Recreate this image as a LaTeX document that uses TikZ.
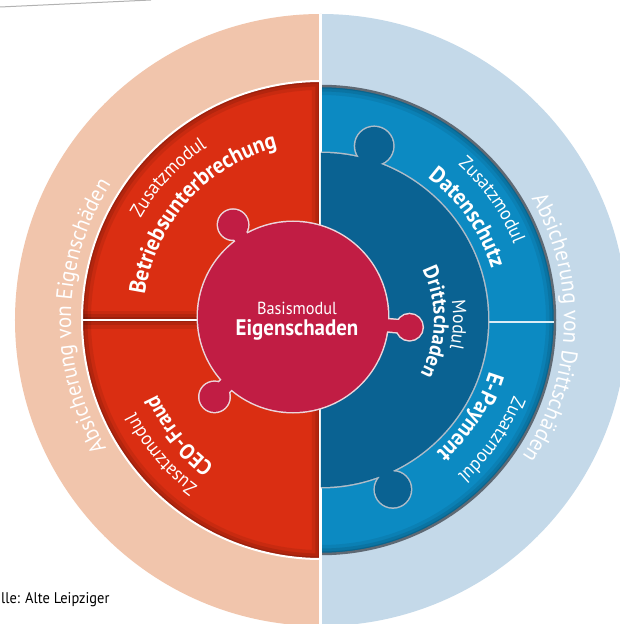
\documentclass[tikz,border=0pt]{standalone}
\usepackage{fontspec}
\setmainfont{PT Sans}[FakeStretch=0.93]
\usetikzlibrary{decorations.text}
\definecolor{peach}{RGB}{241,197,172}
\definecolor{paleblue}{RGB}{196,217,233}
\definecolor{modred}{RGB}{218,46,18}
\definecolor{discred}{RGB}{193,29,68}
\definecolor{darkblue}{RGB}{10,98,146}
\definecolor{midblue}{RGB}{12,138,194}
\definecolor{blueedge}{RGB}{95,105,115}
\definecolor{knobedge}{RGB}{175,188,200}
\definecolor{discedge}{RGB}{236,214,220}
\newlength\arcw
\newcommand\arclabel[5]{%
  \setbox0\hbox{\pgfinterruptpicture\normalfont\fontsize{10}{12}\selectfont#4#5\endpgfinterruptpicture}%
  \arcw=\wd0
  \pgfmathsetmacro\arcfs{10*#3/\arcw}%
  \path[decorate,decoration={text along path,text align=center,text color=white,
     text={|\normalfont\fontsize{\arcfs}{\arcfs}\selectfont#4|#5}}]
     ({#1+80}:#2) arc[start angle={#1+80},end angle={#1-80},radius=#2];%
}
\tikzset{
  divider/.style={white,line width=2pt},
  lbl/.style={text=white,inner sep=0pt},
  glow/.style={black,opacity=#1}
}
\begin{document}
\begin{tikzpicture}[x=1pt,y=1pt]
\clip (-321,-304) rectangle (299,320);
\fill[white] (-321,-304) rectangle (299,320);
% page edge artefact
\draw[gray!60,line width=1pt] (-321,313) -- (-170,320);
% outer rings
\fill[peach] (0,306) arc[start angle=90,end angle=270,radius=306] -- cycle;
\fill[paleblue] (0,306) arc[start angle=90,end angle=-90,radius=306] -- cycle;
% red half with inner glow
\fill[modred] (0,239) arc[start angle=90,end angle=270,radius=239] -- cycle;
\begin{scope}
  \clip (0,239) arc[start angle=90,end angle=270,radius=239] -- cycle;
  \foreach \w/\o in {18/0.08,11/0.10,5/0.12}{
    \draw[glow=\o,line width=\w pt] (0,239) arc[start angle=90,end angle=270,radius=239] -- cycle;
    \draw[glow=\o,line width=\w pt] (-239,0) -- (0,0);
  }
\end{scope}
\draw[white,line width=2pt] (0,239) arc[start angle=90,end angle=270,radius=239];
% blue half with inner glow
\fill[midblue] (0,234) arc[start angle=90,end angle=-90,radius=234] -- cycle;
\begin{scope}
  \clip (0,234) arc[start angle=90,end angle=-90,radius=234] -- cycle;
  \foreach \w/\o in {18/0.07,11/0.09,5/0.12}{
    \draw[glow=\o,line width=\w pt] (0,234) arc[start angle=90,end angle=-90,radius=234];
  }
\end{scope}
\draw[blueedge,line width=2.5pt] (0,234) arc[start angle=90,end angle=-90,radius=234];
% dividers
\draw[white,line width=3pt] (0,-306) -- (0,306);
\draw[divider] (-239,0) -- (-110,0);
\draw[divider,white!85!midblue] (167,-2) -- (233,-2);
% Drittschaden region (outline layer)
\draw[knobedge,line width=3pt] (0,167) arc[start angle=90,end angle=-90,radius=167];
\draw[knobedge,line width=3pt] (73:182) circle[radius=19];
\draw[knobedge,line width=19pt] (73:158) -- (73:182);
\draw[knobedge,line width=3pt] (-67:184) circle[radius=18];
\draw[knobedge,line width=18pt] (-67:158) -- (-67:184);
% Drittschaden region (fill layer)
\fill[darkblue] (0,167) arc[start angle=90,end angle=-90,radius=167] -- cycle;
\fill[darkblue] (73:182) circle[radius=19];
\draw[darkblue,line width=16pt] (73:158) -- (73:182);
\fill[darkblue] (-67:184) circle[radius=18];
\draw[darkblue,line width=15pt] (-67:158) -- (-67:184);
% centre disc
\begin{scope}[shift={(-28,3)}]
\draw[discedge,line width=3pt] (0,0) circle[radius=95];
\draw[discedge,line width=3pt] (123:110) circle[radius=15];
\draw[discedge,line width=3pt] (225.5:112) circle[radius=15];
\draw[discedge,line width=3pt] (-5:117) circle[radius=13];
\draw[discedge,line width=17pt] (123:85) -- (123:110);
\draw[discedge,line width=17pt] (225.5:85) -- (225.5:112);
\draw[discedge,line width=15pt] (-5:85) -- (-5:117);
\fill[discred] (0,0) circle[radius=95];
\fill[discred] (123:110) circle[radius=15];
\fill[discred] (225.5:112) circle[radius=15];
\fill[discred] (-5:117) circle[radius=13];
\draw[discred,line width=14pt] (123:85) -- (123:110);
\draw[discred,line width=14pt] (225.5:85) -- (225.5:112);
\draw[discred,line width=12pt] (-5:85) -- (-5:117);
\end{scope}
% texts
\node[lbl,font=\fontsize{17.5}{19}\selectfont] (basis) at (-24,12) {Basismodul};
\node[lbl,font=\fontsize{22.5}{25}\selectfont\bfseries] (eigen) at (-24,-10) {Eigenschaden};
\node[anchor=base west,inner sep=0pt,text=black,font=\fontsize{15.5}{17}\selectfont] (quelle) at (-320,-283) {lle: Alte Leipziger};
\arclabel{179}{250}{278}{\mdseries}{Absicherung von Eigenschäden}
\arclabel{-2}{243}{272}{\mdseries}{Absicherung von Drittschäden}
\arclabel{137}{207}{98}{\mdseries}{Zusatzmodul}
\arclabel{138}{178}{210}{\bfseries}{Betriebsunterbrechung}
\arclabel{35}{207}{98}{\mdseries}{Zusatzmodul}
\arclabel{35}{178}{113}{\bfseries}{Datenschutz}
\arclabel{-35}{207}{98}{\mdseries}{Zusatzmodul}
\arclabel{-33}{176}{98}{\bfseries}{E-Payment}
\arclabel{220}{207}{98}{\mdseries}{Zusatzmodul}
\arclabel{219}{180}{92}{\bfseries}{CEO-Fraud}
\arclabel{-2}{132}{48}{\mdseries}{Modul}
\arclabel{-1}{113}{108}{\bfseries}{Drittschaden}
\end{tikzpicture}
\end{document}
